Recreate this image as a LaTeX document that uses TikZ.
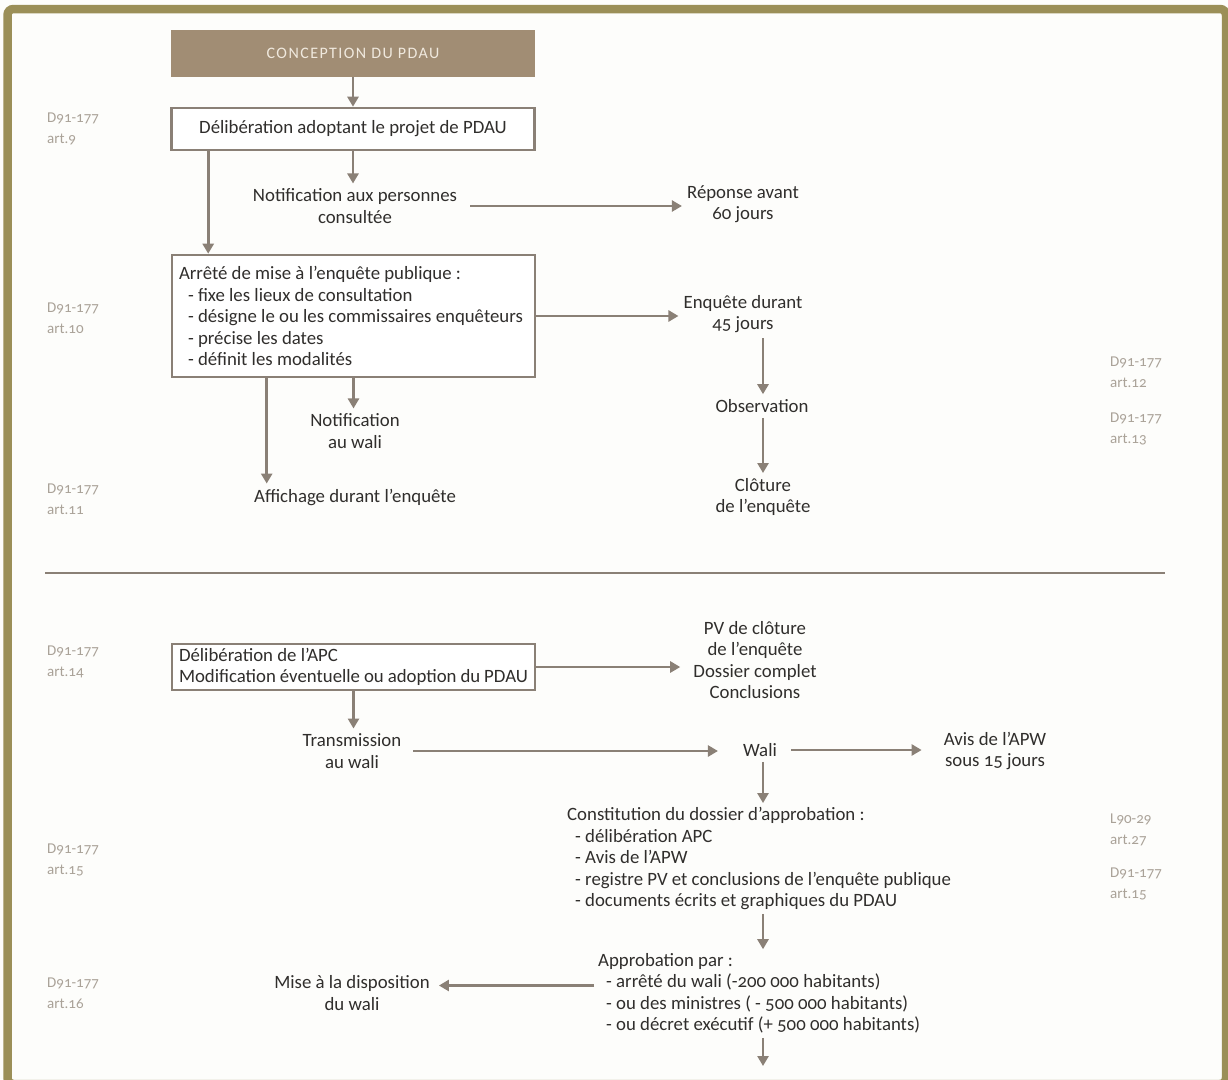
\documentclass[tikz,border=0pt]{standalone}
\usepackage{fontspec}
\setmainfont{Carlito}[Numbers=OldStyle]
\usetikzlibrary{arrows.meta,calc}

\definecolor{frameolive}{RGB}{155,143,88}
\definecolor{headfill}{RGB}{161,141,116}
\definecolor{headtext}{RGB}{240,233,222}
\definecolor{edgegray}{RGB}{138,128,118}
\definecolor{ink}{RGB}{48,46,44}
\definecolor{lawink}{RGB}{170,162,152}
\definecolor{paper}{RGB}{253,253,251}

\tikzset{
  txtfont/.style={font=\fontsize{18.8}{21.5}\selectfont},
  headbox/.style={fill=headfill, text=headtext, minimum width=364pt, minimum height=47pt,
    font=\fontsize{16}{18}\selectfont\addfontfeature{LetterSpace=9}},
  stepbox/.style={draw=edgegray, line width=2.6pt, fill=white, text=ink, txtfont, inner sep=4pt},
  listbox/.style={stepbox, align=flush left, inner xsep=7pt, text width=349pt, minimum height=122pt},
  flow/.style={text=ink, txtfont, align=center, inner sep=5pt},
  block/.style={text=ink, txtfont, align=flush left, inner sep=4pt, anchor=west},
  law/.style={text=lawink, font=\fontsize{15}{21.5}\selectfont, align=flush left, anchor=west, inner sep=0pt},
  conn/.style={draw=edgegray, line width=2.7pt, -{Triangle[length=10pt,width=11pt]}},
}

\begin{document}
\begin{tikzpicture}[x=1pt,y=-1pt]
\useasboundingbox (0,0) rectangle (1228,1079);
\fill[paper] (0,0) rectangle (1228,1079);
% outer frame
\draw[frameolive, line width=8.5pt, rounded corners=6pt] (7.5,9) rectangle (1226,1084);

% column guides
\coordinate (colR) at (763,0);

% ---------- first stage: public inquiry ----------
\node[headbox] (concept) at (353,53.5) {CONCEPTION DU PDAU};
\node[stepbox, minimum width=363pt, minimum height=42pt] (delib) at (353,129)
  {Délibération adoptant le projet de PDAU};
\node[flow] (notif) at (355,206) {Notification aux personnes\\consultée};
\node[flow] (rep) at (743,204) {Réponse avant\\60 jours};
\node[listbox] (arrete) at (353.5,316) {Arrêté de mise à l'enquête publique :\\
  \hspace*{9pt}- fixe les lieux de consultation\\
  \hspace*{9pt}- désigne le ou les commissaires enquêteurs\\
  \hspace*{9pt}- précise les dates\\
  \hspace*{9pt}- définit les modalités};
\node[flow] (enq) at (743,314) {Enquête durant\\45 jours};
\node[flow] (notwali) at (355,431) {Notification\\au wali};
\node[flow] (affich) at (355,497) {Affichage durant l'enquête};
\node[flow] (obs) at (762,406) {Observation};
\node[flow] (clot) at (763,497) {Clôture\\de l'enquête};

\node[law] (law9) at (47,129) {D91-177\\art.9};
\node[law] (law10) at (47,318) {D91-177\\art.10};
\node[law] (law11) at (47,499) {D91-177\\art.11};
\node[law] (law12) at (1110,372) {D91-177\\art.12};
\node[law] (law13) at (1110,429) {D91-177\\art.13};

\draw[conn] (concept.south) -- (delib.north);
\draw[conn] (delib.south) -- (delib.south |- notif.north);
\draw[conn] ([xshift=38pt]delib.south west) -- ([xshift=38pt]delib.south west |- arrete.north);
\draw[conn, shorten <=8pt] (notif.east) -- (notif.east -| rep.west);
\draw[conn] (arrete.east) -- (arrete.east -| enq.west);
\draw[conn] (arrete.south) -- (arrete.south |- notwali.north);
\draw[conn] ([xshift=96pt]arrete.south west) -- ([xshift=96pt]arrete.south west |- affich.north);
\draw[conn] (enq.south -| colR) -- (obs.north -| colR);
\draw[conn] (obs.south -| colR) -- (clot.north -| colR);

% separator between the two stages
\draw[edgegray, line width=2.4pt] (45,573) -- (1165,573);

% ---------- second stage: approval ----------
\node[stepbox, align=flush left, inner xsep=7pt, text width=349pt, minimum height=46pt] (apc) at (353.5,667)
  {Délibération de l'APC\\Modification éventuelle ou adoption du PDAU};
\node[flow] (pv) at (755,660) {PV de clôture\\de l'enquête\\Dossier complet\\Conclusions};
\node[flow] (trans) at (352,751) {Transmission\\au wali};
\node[flow] (wali) at (760,750) {Wali};
\node[flow] (avis) at (995,751) {Avis de l'APW\\sous 15 jours};
\node[block] (const) at (563,858.5) {Constitution du dossier d'approbation :\\
  \hspace*{8pt}- délibération APC\\
  \hspace*{8pt}- Avis de l'APW\\
  \hspace*{8pt}- registre PV et conclusions de l'enquête publique\\
  \hspace*{8pt}- documents écrits et graphiques du PDAU};
\node[block] (approb) at (594,993.5) {Approbation par :\\
  \hspace*{8pt}- arrêté du wali (-200 000 habitants)\\
  \hspace*{8pt}- ou des ministres ( - 500 000 habitants)\\
  \hspace*{8pt}- ou décret exécutif (+ 500 000 habitants)};
\node[flow] (mise) at (352,993) {Mise à la disposition\\du wali};
\coordinate (next) at (763,1066);

\node[law] (law14) at (47,662) {D91-177\\art.14};
\node[law] (law15) at (47,860) {D91-177\\art.15};
\node[law] (law16) at (47,993) {D91-177\\art.16};
\node[law] (law27) at (1110,830) {L90-29\\art.27};
\node[law] (law15b) at (1110,884) {D91-177\\art.15};

\draw[conn, shorten >=8pt] (apc.east) -- (apc.east -| pv.west);
\draw[conn] (apc.south) -- (apc.south |- trans.north);
\draw[conn, shorten <=7pt, shorten >=20pt] (trans.east) -- (trans.east -| wali.west);
\draw[conn, shorten <=9pt, shorten >=17pt] (wali.east) -- (wali.east -| avis.west);
\draw[conn] (wali.south -| colR) -- (const.north -| colR);
\draw[conn] (const.south -| colR) -- (approb.north -| colR);
\draw[conn, shorten >=4pt] ([yshift=8pt]approb.west) -- ([yshift=8pt]approb.west -| mise.east);
\draw[conn] (approb.south -| colR) -- (next);
\end{tikzpicture}
\end{document}
